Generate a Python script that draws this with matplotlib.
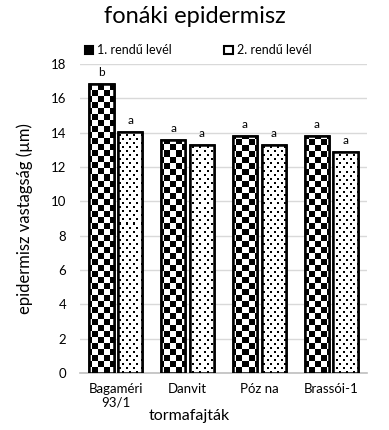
import matplotlib.pyplot as plt
import numpy as np

plt.rcParams['font.family'] = ['Lato', 'DejaVu Sans']

fajtak = ['Bagaméri\n93/1', 'Danvit', 'Póz na', 'Brassói-1']
elso_rendu = [16.85, 13.6, 13.8, 13.8]
masod_rendu = [14.05, 13.3, 13.3, 12.9]
betuk_1 = ['b', 'a', 'a', 'a']
betuk_2 = ['a', 'a', 'a', 'a']

fig = plt.figure(figsize=(3.89, 4.30), dpi=100)
ax = fig.add_axes([0.2057, 0.1326, 0.7377, 0.7186])

x = np.arange(len(fajtak))
w = 0.34
b1 = ax.bar(x - 0.2, elso_rendu, w, color='white', edgecolor='black', linewidth=1.8, zorder=3)
b2 = ax.bar(x + 0.2, masod_rendu, w, color='white', edgecolor='black', linewidth=1.8, zorder=3)

ax.set_xlim(-0.5, 3.5)
ax.set_ylim(0, 18)

# mintak pixel racsban (az axes meretere)
px_w, px_h = 287, 309
yy, xx = np.mgrid[0:px_h, 0:px_w]
sakk = ((xx // 6 + yy // 6) % 2).astype(float)
pontok = np.ones((px_h, px_w))
pontok[((xx % 7 < 2) & (yy % 8 < 2)) | (((xx + 3) % 7 < 2) & ((yy + 4) % 8 < 2))] = 0.0


def minta(bars, kep):
    for bar in bars:
        im = ax.imshow(kep, cmap='gray', vmin=0, vmax=1, origin='lower',
                       interpolation='nearest', extent=[-0.5, 3.5, 0, 18],
                       aspect='auto', zorder=3.5)
        im.set_clip_path(bar)
        ax.add_patch(plt.Rectangle(bar.get_xy(), bar.get_width(), bar.get_height(),
                                   fill=False, edgecolor='black', linewidth=1.8, zorder=4))


minta(b1, sakk)
minta(b2, pontok)
ax.set_xlim(-0.5, 3.5)
ax.set_ylim(0, 18)

for bars, betuk in [(b1, betuk_1), (b2, betuk_2)]:
    for bar, t in zip(bars, betuk):
        ax.text(bar.get_x() + bar.get_width() / 2, bar.get_height() + 0.35, t,
                ha='center', va='bottom', fontsize=8.5)

ax.set_yticks(np.arange(0, 19, 2))
ax.tick_params(axis='y', length=0, labelsize=9.5, pad=10)
ax.tick_params(axis='x', length=0, labelsize=9.5, pad=7)
ax.set_xticks(x)
ax.set_xticklabels(fajtak)
ax.grid(axis='y', color='#d9d9d9', linewidth=1, zorder=0)
for s in ['left', 'right', 'top']:
    ax.spines[s].set_visible(False)
ax.spines['bottom'].set_color('#bfbfbf')
ax.spines['bottom'].set_linewidth(1.2)

ax.set_ylabel('epidermisz vastagság (µm)', fontsize=12)
ax.yaxis.set_label_coords(-0.165, 0.5)
ax.set_xlabel('tormafajták', fontsize=11.5)
ax.xaxis.set_label_coords(0.38, -0.115)
fig.suptitle('fonáki epidermisz', fontsize=17, y=0.985)

h1 = plt.Rectangle((0, 0), 1, 1, facecolor='black', edgecolor='black', linewidth=1.5)
h2 = plt.Rectangle((0, 0), 1, 1, facecolor='white', edgecolor='black', linewidth=1.5)
ax.legend([h1, h2], ['1. rendű levél', '2. rendű levél'], loc='lower left',
          bbox_to_anchor=(-0.01, 1.0), ncol=2, frameon=False, fontsize=9,
          handlelength=0.7, handleheight=0.6, handletextpad=0.3, columnspacing=4.2,
          borderaxespad=0.2)

fig.savefig('out.png', dpi=100)
